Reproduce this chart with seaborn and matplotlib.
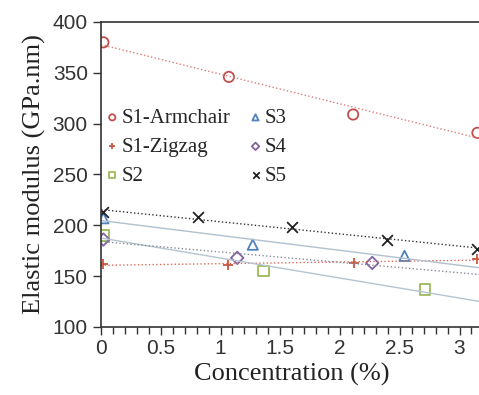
import numpy as np
import pandas as pd
import seaborn as sns
import matplotlib.pyplot as plt

# valores
x_arm = [0.02, 1.07, 2.11, 3.15]
y_arm = [380, 346, 309, 291]
x_zig = [0.02, 1.06, 2.12, 3.15]
y_zig = [162, 161, 163, 167]
x_s2 = [0.02, 1.36, 2.71]
y_s2 = [190, 155, 137]
x_s3 = [0.02, 1.27, 2.54]
y_s3 = [207, 181, 170]
x_s4 = [0.02, 1.14, 2.27]
y_s4 = [186, 168, 163]
x_s5 = [0.02, 0.81, 1.60, 2.39, 3.15]
y_s5 = [213, 208, 198, 186, 177]

series = [
    ("S1-Armchair", x_arm, y_arm, "o", "#c0504d", "#e07a7a", ":"),
    ("S1-Zigzag", x_zig, y_zig, "+", "#c8553d", "#e06a5a", ":"),
    ("S2", x_s2, y_s2, "s", "#9bbb59", "#b4c4d2", "-"),
    ("S3", x_s3, y_s3, "^", "#4f81bd", "#b0c0d0", "-"),
    ("S4", x_s4, y_s4, "D", "#8064a2", "#8a8a9a", ":"),
    ("S5", x_s5, y_s5, "x", "#222222", "#333333", ":"),
]

sns.set_style("ticks")
plt.rcParams["font.family"] = ["Liberation Sans", "DejaVu Sans"]

fig = plt.figure(figsize=(4.79, 3.95), dpi=100)
ax = fig.add_axes([101 / 479, 68 / 395, 3.2 * 119.5 / 479, 305 / 395])
ax.set_xlim(0, 3.2)
ax.set_ylim(100, 400)

for name, xs, ys, mk, col, lcol, ls in series:
    df = pd.DataFrame({"x": xs, "y": ys})
    if mk in ("+", "x"):
        skw = {"s": 60, "color": col, "linewidths": 1.3, "alpha": 1}
    else:
        size = 40 if mk == "D" else 55
        skw = {"s": size, "facecolors": "none", "edgecolors": col, "linewidths": 1.3, "alpha": 1}
    sns.regplot(data=df, x="x", y="y", ax=ax, ci=None, truncate=False, marker=mk,
                label=name, scatter_kws=skw,
                line_kws={"color": lcol, "linestyle": ls, "linewidth": 1.0})

ax.set_xlim(0, 3.2)
ax.set_ylim(100, 400)
ax.set_xticks(np.arange(0, 3.01, 0.5))
ax.set_xticklabels(["0", "0.5", "1", "1.5", "2", "2.5", "3"])
ax.set_xticks(np.arange(0, 3.21, 0.1), minor=True)
ax.set_yticks(np.arange(100, 401, 50))
ax.tick_params(axis="both", which="major", labelsize=15, length=6, width=1, direction="out", colors="#333333")
ax.tick_params(axis="x", which="minor", length=5, width=1, direction="out", colors="#333333")
ax.tick_params(axis="x", pad=3)
for s in ["left", "bottom", "top"]:
    ax.spines[s].set_color("#333333")
    ax.spines[s].set_linewidth(1.2)
ax.spines["right"].set_visible(False)

ax.set_xlabel("Concentration (%)", fontsize=19, family="Liberation Serif", color="#222222", labelpad=3)
ax.set_ylabel("Elastic modulus (GPa.nm)", fontsize=19, family="Liberation Serif", color="#222222", labelpad=5)

leg = ax.legend(ncol=2, loc="upper left", bbox_to_anchor=(-0.025, 0.765), frameon=False,
                prop={"family": "Liberation Serif", "size": 15}, markerscale=0.6,
                handlelength=0.6, handletextpad=0.15, columnspacing=0.9, labelspacing=0.45,
                borderaxespad=0.3)

fig.savefig("out.png", dpi=100)
